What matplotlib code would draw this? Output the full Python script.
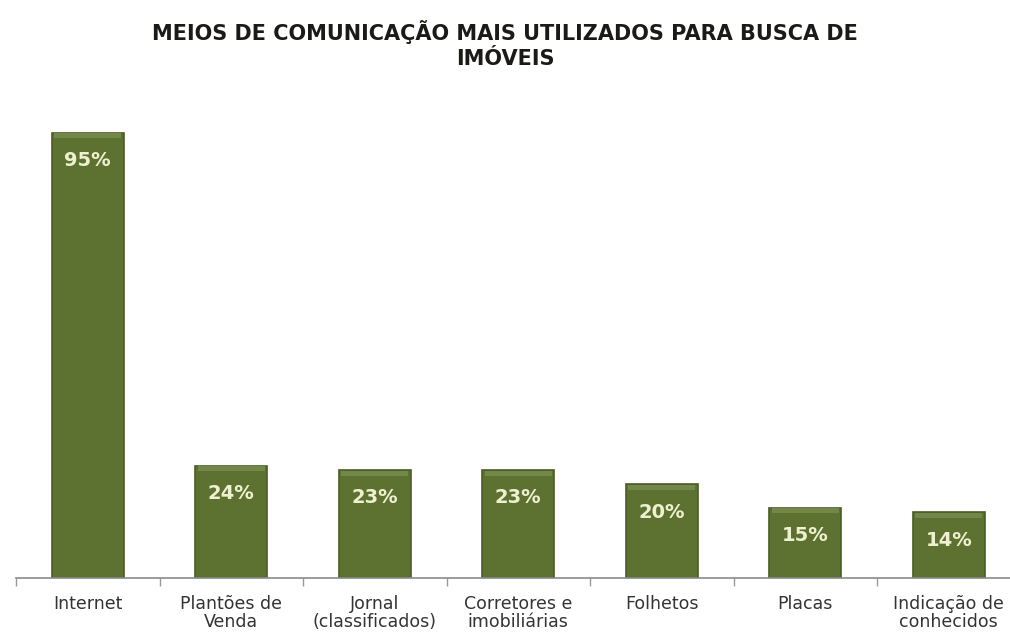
import matplotlib.pyplot as plt
import numpy as np

# survey results: media used when searching for property
categorias = ['Internet', 'Plantões de\nVenda', 'Jornal\n(classificados)',
              'Corretores e\nimobiliárias', 'Folhetos', 'Placas',
              'Indicação de\nconhecidos']
percentuais = [95, 24, 23, 23, 20, 15, 14]
rotulos = ['95%', '24%', '23%', '23%', '20%', '15%', '14%']

titulo = 'MEIOS DE COMUNICAÇÃO MAIS UTILIZADOS PARA BUSCA DE\nIMÓVEIS'

verde = '#5d7231'
verde_escuro = '#4a5d25'
verde_claro = '#73874a'

fig = plt.figure(figsize=(10.10, 6.37), dpi=100)
fig.patch.set_facecolor('white')
ax = fig.add_axes([16 / 1010, 59 / 637, 1004.5 / 1010, 468.6 / 637])

x = np.arange(len(categorias))
ax.bar(x, percentuais, width=0.5, color=verde, edgecolor=verde_escuro,
       linewidth=1.2, zorder=2)
# lighter bevel along the top of each bar
ax.bar(x, [1.1] * len(x), bottom=np.array(percentuais) - 1.2, width=0.47,
       color=verde_claro, linewidth=0, zorder=3)

for xi, v, txt in zip(x, percentuais, rotulos):
    ax.annotate(txt, (xi, v), xytext=(0, -20), textcoords='offset points',
                ha='center', va='center', color='#eef0cf',
                fontsize=14, fontweight='bold', zorder=4)

ax.set_xlim(-0.5, len(categorias) - 0.5)
ax.set_ylim(0, 100)

ax.set_xticks(x)
ax.set_xticklabels(categorias, fontsize=12.5, color='#333333', linespacing=1.05)
ax.set_xticks(np.arange(len(categorias)) - 0.5, minor=True)
ax.tick_params(axis='x', which='major', length=0, pad=12)
ax.tick_params(axis='x', which='minor', length=6, color='#9a9a9a', width=1)
ax.set_yticks([])

for lado in ['top', 'right', 'left']:
    ax.spines[lado].set_visible(False)
ax.spines['bottom'].set_color('#8a8a8a')
ax.spines['bottom'].set_linewidth(1.2)

fig.text(0.5, 0.968, titulo, ha='center', va='top', fontsize=15,
         fontweight='bold', color='#1c1a17', linespacing=1.3)

fig.savefig('out.png', dpi=100, facecolor='white')
plt.close(fig)
